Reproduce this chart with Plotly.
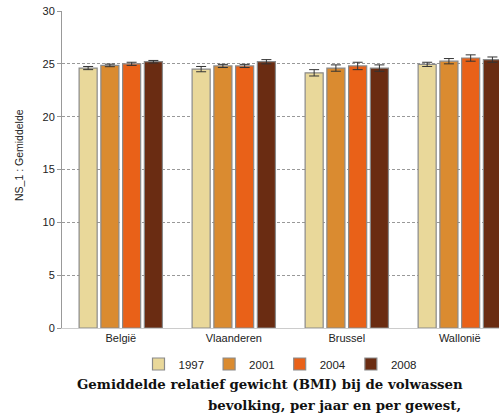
import plotly.graph_objects as go

categories = ["België", "Vlaanderen", "Brussel", "Wallonië"]
years = ["1997", "2001", "2004", "2008"]
values = {
    "1997": [24.6, 24.5, 24.15, 24.95],
    "2001": [24.85, 24.8, 24.6, 25.25],
    "2004": [25.0, 24.8, 24.8, 25.55],
    "2008": [25.2, 25.2, 24.6, 25.4],
}
errors = {
    "1997": [0.15, 0.25, 0.3, 0.2],
    "2001": [0.12, 0.15, 0.3, 0.25],
    "2004": [0.15, 0.15, 0.35, 0.3],
    "2008": [0.12, 0.2, 0.3, 0.25],
}
colors = {"1997": "#E9D89A", "2001": "#DA8B30", "2004": "#E96118", "2008": "#6A2C12"}
yticks = [0, 5, 10, 15, 20, 25, 30]

fig = go.Figure()
for yr in years:
    fig.add_trace(go.Bar(
        x=categories, y=values[yr], name=yr,
        marker=dict(color=colors[yr], line=dict(color="#8a8a8a", width=1.2)),
        error_y=dict(type="data", array=errors[yr], color="#333333", thickness=1, width=5),
    ))

W0, H0 = 62, 328
def px(x): return (x - W0) / 437
def py(y): return (H0 - y) / 317

fig.update_layout(
    width=499, height=419,
    margin=dict(l=62, r=0, t=11, b=91),
    paper_bgcolor="white", plot_bgcolor="white",
    barmode="group", bargap=0.23, bargroupgap=0.17,
    font=dict(family="Liberation Sans, Arial", size=10, color="#222222"),
    showlegend=True,
    legend=dict(orientation="h", x=px(280), xanchor="center", y=py(364), yanchor="middle",
                font=dict(size=11.5, color="#222"), traceorder="normal", itemwidth=30),
    xaxis=dict(range=[-0.52, 3.347], showgrid=False, showline=True, linecolor="#cccccc",
               ticks="", tickfont=dict(size=11, color="#222")),
    yaxis=dict(range=[0, 30], tickvals=yticks, showgrid=True, gridcolor="#999999",
               griddash="3px,2px", gridwidth=1, showline=True, linecolor="#999999",
               ticks="outside", ticklen=4, tickcolor="#999999", zeroline=False,
               tickfont=dict(size=11, color="#222")),
    annotations=[
        dict(text="NS_1 : Gemiddelde", xref="paper", yref="paper", textangle=-90,
             x=px(19), y=py(155), xanchor="center", yanchor="middle", showarrow=False,
             font=dict(size=10.5, color="#222")),
        dict(text="<b>Gemiddelde relatief gewicht (BMI) bij de volwassen</b>", xref="paper", yref="paper",
             x=px(270), y=py(384), xanchor="center", yanchor="middle", showarrow=False,
             font=dict(family="DejaVu Serif", size=13.3, color="#111")),
        dict(text="<b>bevolking, per jaar en per gewest,</b>", xref="paper", yref="paper",
             x=px(463), y=py(405), xanchor="right", yanchor="middle", showarrow=False,
             font=dict(family="DejaVu Serif", size=13.3, color="#111")),
    ],
)
fig.write_html("out.html", config={"displayModeBar": False})
with open("out.html", encoding="utf-8") as f:
    html = f.read()
html = html.replace("<head>", "<head><style>html,body{margin:0;padding:0;overflow:hidden}</style>", 1)
with open("out.html", "w", encoding="utf-8") as f:
    f.write(html)
